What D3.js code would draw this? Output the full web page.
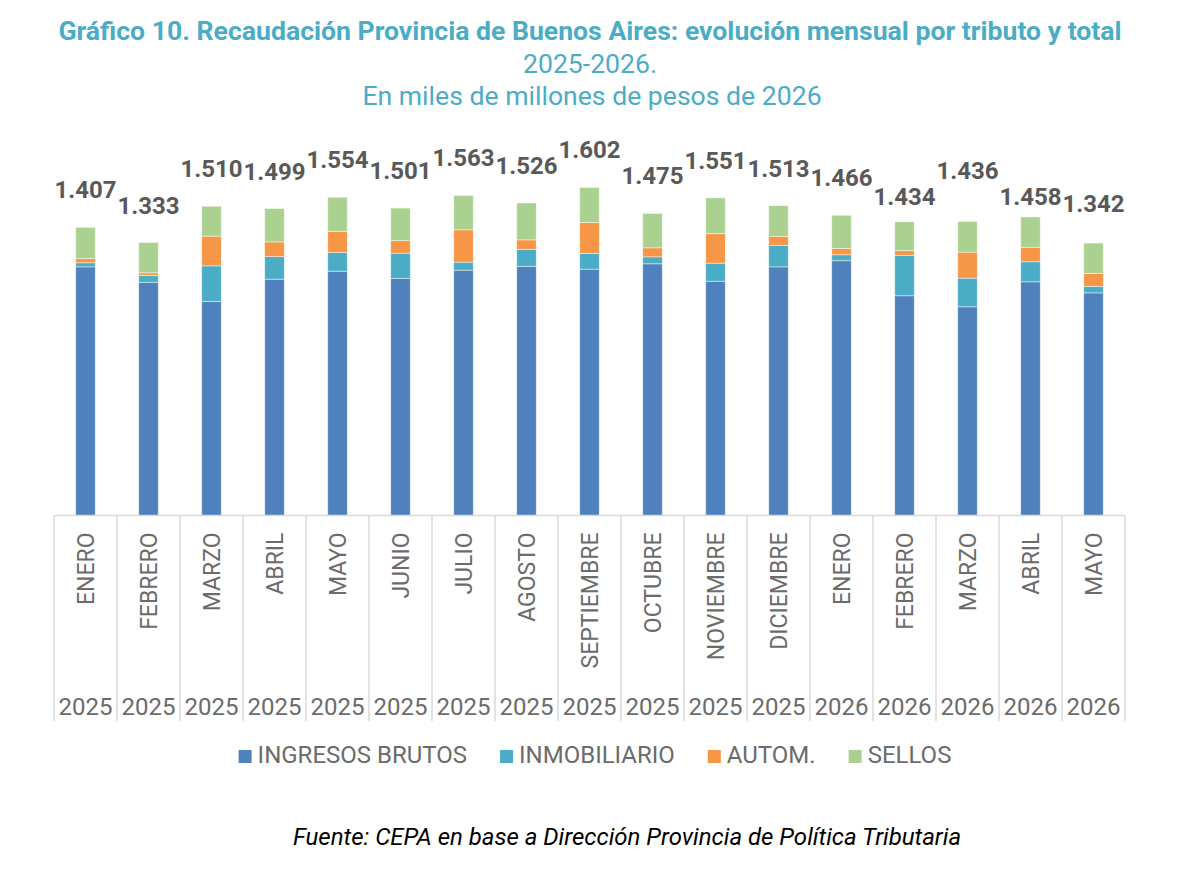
<!DOCTYPE html>
<html>
<head>
<meta charset="utf-8">
<script src="https://cdn.jsdelivr.net/npm/d3@7"></script>
<style>
  body { margin: 0; background: #fff; }
  svg { font-family: Roboto, "Noto Sans", sans-serif; }
</style>
</head>
<body>
<svg width="1192" height="872"></svg>
<script>
// data (miles de millones de pesos de 2026)
let months = ["ENERO", "FEBRERO", "MARZO", "ABRIL", "MAYO", "JUNIO", "JULIO", "AGOSTO",
  "SEPTIEMBRE", "OCTUBRE", "NOVIEMBRE", "DICIEMBRE", "ENERO", "FEBRERO", "MARZO", "ABRIL", "MAYO"];
let years = ["2025", "2025", "2025", "2025", "2025", "2025", "2025", "2025", "2025",
  "2025", "2025", "2025", "2026", "2026", "2026", "2026", "2026"];

let ingresosBrutos = [1214, 1139, 1045, 1154, 1193, 1157, 1198, 1217, 1203, 1229, 1144, 1214, 1244, 1073, 1019, 1141, 1087];
let inmobiliario   = [20, 33, 174, 110, 91, 124, 39, 83, 77, 34, 88, 105, 29, 197, 140, 98, 32];
let autom          = [21, 13, 145, 72, 104, 61, 158, 46, 151, 44, 144, 44, 31, 23, 127, 71, 63];
let sellos         = [152, 148, 146, 163, 166, 159, 168, 180, 171, 168, 175, 150, 162, 141, 150, 148, 148];

let totals = [1407, 1333, 1510, 1499, 1554, 1501, 1563, 1526, 1602, 1475, 1551, 1513, 1466, 1434, 1436, 1458, 1342];

let seriesNames = ["INGRESOS BRUTOS", "INMOBILIARIO", "AUTOM.", "SELLOS"];
let seriesKeys = ["ib", "inmo", "auto", "sellos"];
let colors = ["#4f81bd", "#4bacc6", "#f79646", "#abd190"];

var drawChart = function() {
  let svg = d3.select("svg");

  // build a table for d3.stack
  let table = months.map(function(m, i) {
    return { idx: i, ib: ingresosBrutos[i], inmo: inmobiliario[i], auto: autom[i], sellos: sellos[i] };
  });
  let stacked = d3.stack().keys(seriesKeys)(table);

  let baseline = 515.5;
  let pxPerUnit = 0.2048;

  let x = d3.scaleBand()
    .domain(d3.range(months.length))
    .range([54, 1125])
    .paddingInner(0.69)
    .paddingOuter(0.345);

  let y = d3.scaleLinear()
    .domain([0, 1800])
    .range([baseline, baseline - 1800 * pxPerUnit]);

  let color = d3.scaleOrdinal().domain(seriesKeys).range(colors);

  // titles
  svg.append("text")
    .attr("x", 590).attr("y", 40)
    .attr("text-anchor", "middle")
    .style("font-size", "26.6px").style("font-weight", "bold")
    .attr("fill", "#4bacc6")
    .text("Gráfico 10. Recaudación Provincia de Buenos Aires: evolución mensual por tributo y total");
  svg.append("text")
    .attr("x", 590).attr("y", 73)
    .attr("text-anchor", "middle")
    .style("font-size", "26.6px")
    .attr("fill", "#4bacc6")
    .text("2025-2026.");
  svg.append("text")
    .attr("x", 592).attr("y", 105)
    .attr("text-anchor", "middle")
    .style("font-size", "26.6px")
    .attr("fill", "#4bacc6")
    .text("En miles de millones de pesos de 2026");

  // category separators (Excel style multi-level axis)
  let step = x.step();
  let edges = d3.range(months.length + 1).map(function(i) { return 54 + i * step; });
  svg.append("g").selectAll("line")
    .data(edges)
    .enter()
    .append("line")
    .attr("x1", function(d) { return d; })
    .attr("x2", function(d) { return d; })
    .attr("y1", baseline)
    .attr("y2", 721)
    .attr("stroke", "#d9d9d9")
    .attr("stroke-width", 1.5);

  // bars
  let plot = svg.append("g").attr("id", "plot");
  plot.selectAll("g.series")
    .data(stacked)
    .enter()
    .append("g")
    .attr("class", "series")
    .attr("fill", function(d) { return color(d.key); })
    .selectAll("rect")
    .data(function(d) { return d; })
    .enter()
    .append("rect")
    .attr("x", function(d) { return x(d.data.idx); })
    .attr("width", x.bandwidth())
    .attr("y", function(d) { return y(d[1]); })
    .attr("height", function(d) { return y(d[0]) - y(d[1]); })
    .attr("stroke", "#ffffff")
    .attr("stroke-width", 0.8)
    .attr("stroke-opacity", 0.55);

  // horizontal axis line
  svg.append("line")
    .attr("x1", 54).attr("x2", 1125)
    .attr("y1", baseline).attr("y2", baseline)
    .attr("stroke", "#d9d9d9")
    .attr("stroke-width", 1.5);

  // total labels; three of them were nudged by hand in the original to avoid overlap
  let labelNudge = { 13: 12, 14: -13, 15: 17 };
  plot.selectAll("text.total")
    .data(totals)
    .enter()
    .append("text")
    .attr("class", "total")
    .attr("x", function(d, i) { return x(i) + x.bandwidth() / 2; })
    .attr("y", function(d, i) { return y(d) - 29 + (labelNudge[i] || 0); })
    .attr("text-anchor", "middle")
    .style("font-size", "24px")
    .style("font-weight", "bold")
    .attr("fill", "#595959")
    .text(function(d) { return d3.format(".3f")(d / 1000); });

  // month axis
  let monthAxis = d3.axisBottom(x)
    .tickSize(0)
    .tickFormat(function(i) { return months[i]; });
  let mGroup = svg.append("g")
    .attr("transform", "translate(0," + baseline + ")")
    .call(monthAxis);
  mGroup.select(".domain").remove();
  mGroup.selectAll("text")
    .attr("transform", "rotate(-90)")
    .attr("x", -17)
    .attr("y", 0)
    .attr("dy", "0.35em")
    .attr("text-anchor", "end")
    .style("font-size", "23px")
    .style("font-family", "Roboto")
    .attr("fill", "#6b6b6b");

  // year axis
  let yearAxis = d3.axisBottom(x)
    .tickSize(0)
    .tickFormat(function(i) { return years[i]; });
  let yGroup = svg.append("g")
    .attr("transform", "translate(0,715)")
    .call(yearAxis);
  yGroup.select(".domain").remove();
  yGroup.selectAll("text")
    .attr("y", 0)
    .attr("dy", 0)
    .style("font-size", "24px")
    .style("font-family", "Roboto")
    .attr("fill", "#6b6b6b");

  // legend
  let legend = svg.append("g").attr("id", "legend");
  let lx = 0;
  seriesNames.forEach(function(name, i) {
    let item = legend.append("g").attr("transform", "translate(" + lx + ",0)");
    item.append("rect")
      .attr("x", 0).attr("y", -13)
      .attr("width", 13).attr("height", 13)
      .attr("fill", colors[i]);
    let t = item.append("text")
      .attr("x", 19).attr("y", 0)
      .style("font-size", "24px")
      .attr("fill", "#6b6b6b")
      .text(name);
    lx += 19 + t.node().getComputedTextLength() + 33;
  });
  let legendWidth = lx - 33;
  legend.attr("transform", "translate(" + (595 - legendWidth / 2) + ",763)");

  // source
  svg.append("text")
    .attr("x", 627).attr("y", 845)
    .attr("text-anchor", "middle")
    .style("font-size", "24px")
    .style("font-style", "italic")
    .attr("fill", "#000")
    .text("Fuente: CEPA en base a Dirección Provincia de Política Tributaria");
};

drawChart();
</script>
</body>
</html>
